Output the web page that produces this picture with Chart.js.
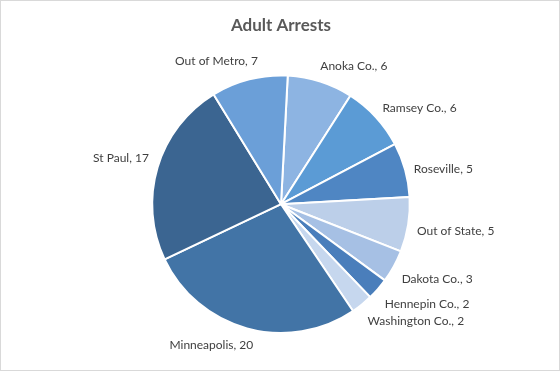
<!DOCTYPE html>
<html>
<head>
<meta charset="utf-8">
<script src="https://cdn.jsdelivr.net/npm/chart.js@4"></script>
<style>
  html, body { margin: 0; padding: 0; background: #fff; }
  .wrap { width: 558px; height: 369px; border: 1px solid #d9d9d9; }
</style>
</head>
<body>
<div class="wrap"><canvas id="arrests" width="558" height="369"></canvas></div>
<script>
// slices, clockwise from the top
const places = ["Anoka Co.", "Ramsey Co.", "Roseville", "Out of State", "Dakota Co.",
  "Hennepin Co.", "Washington Co.", "Minneapolis", "St Paul", "Out of Metro"];
const arrests = [6, 6, 5, 5, 3, 2, 2, 20, 17, 7];
const sliceColors = ["#8db4e2", "#5b9bd5", "#4f86c3", "#bccfe9", "#a6c0e4",
  "#4a7ebb", "#c6d7ee", "#4274a6", "#3b6591", "#6b9fd8"];

// outside-end labels "name, value"
const outsideLabels = {
  id: "outsideLabels",
  afterDatasetsDraw(chart) {
    const ctx = chart.ctx;
    const meta = chart.getDatasetMeta(0);
    ctx.save();
    ctx.font = "12px Lato";
    ctx.fillStyle = "#404040";
    ctx.textAlign = "center";
    ctx.textBaseline = "middle";
    meta.data.forEach((arc, i) => {
      const p = arc.getProps(["x", "y", "startAngle", "endAngle", "outerRadius"], true);
      const mid = (p.startAngle + p.endAngle) / 2;
      const r = p.outerRadius + 9;
      const ax = p.x + Math.cos(mid) * r;
      const ay = p.y + Math.sin(mid) * r;
      const text = places[i] + ", " + arrests[i];
      const w = ctx.measureText(text).width;
      const k = Math.max(-1, Math.min(1, Math.cos(mid) * 3));
      ctx.fillText(text, ax + k * w / 2, ay + Math.sin(mid) * 9 + Math.cos(mid) * 4);
    });
    ctx.restore();
  }
};

new Chart(document.getElementById("arrests"), {
  type: "pie",
  data: {
    labels: places,
    datasets: [{
      data: arrests,
      backgroundColor: sliceColors,
      borderColor: "#ffffff",
      borderWidth: 2
    }]
  },
  options: {
    responsive: false,
    animation: false,
    rotation: 3,
    layout: { padding: { left: 2, right: 0, top: 0, bottom: 36 } },
    plugins: {
      legend: { display: false },
      tooltip: { enabled: false },
      title: {
        display: true,
        text: "Adult Arrests",
        color: "#595959",
        font: { family: "Lato", size: 17, weight: "bold" },
        padding: { top: 14, bottom: 39 }
      }
    }
  },
  plugins: [outsideLabels]
});
</script>
</body>
</html>
